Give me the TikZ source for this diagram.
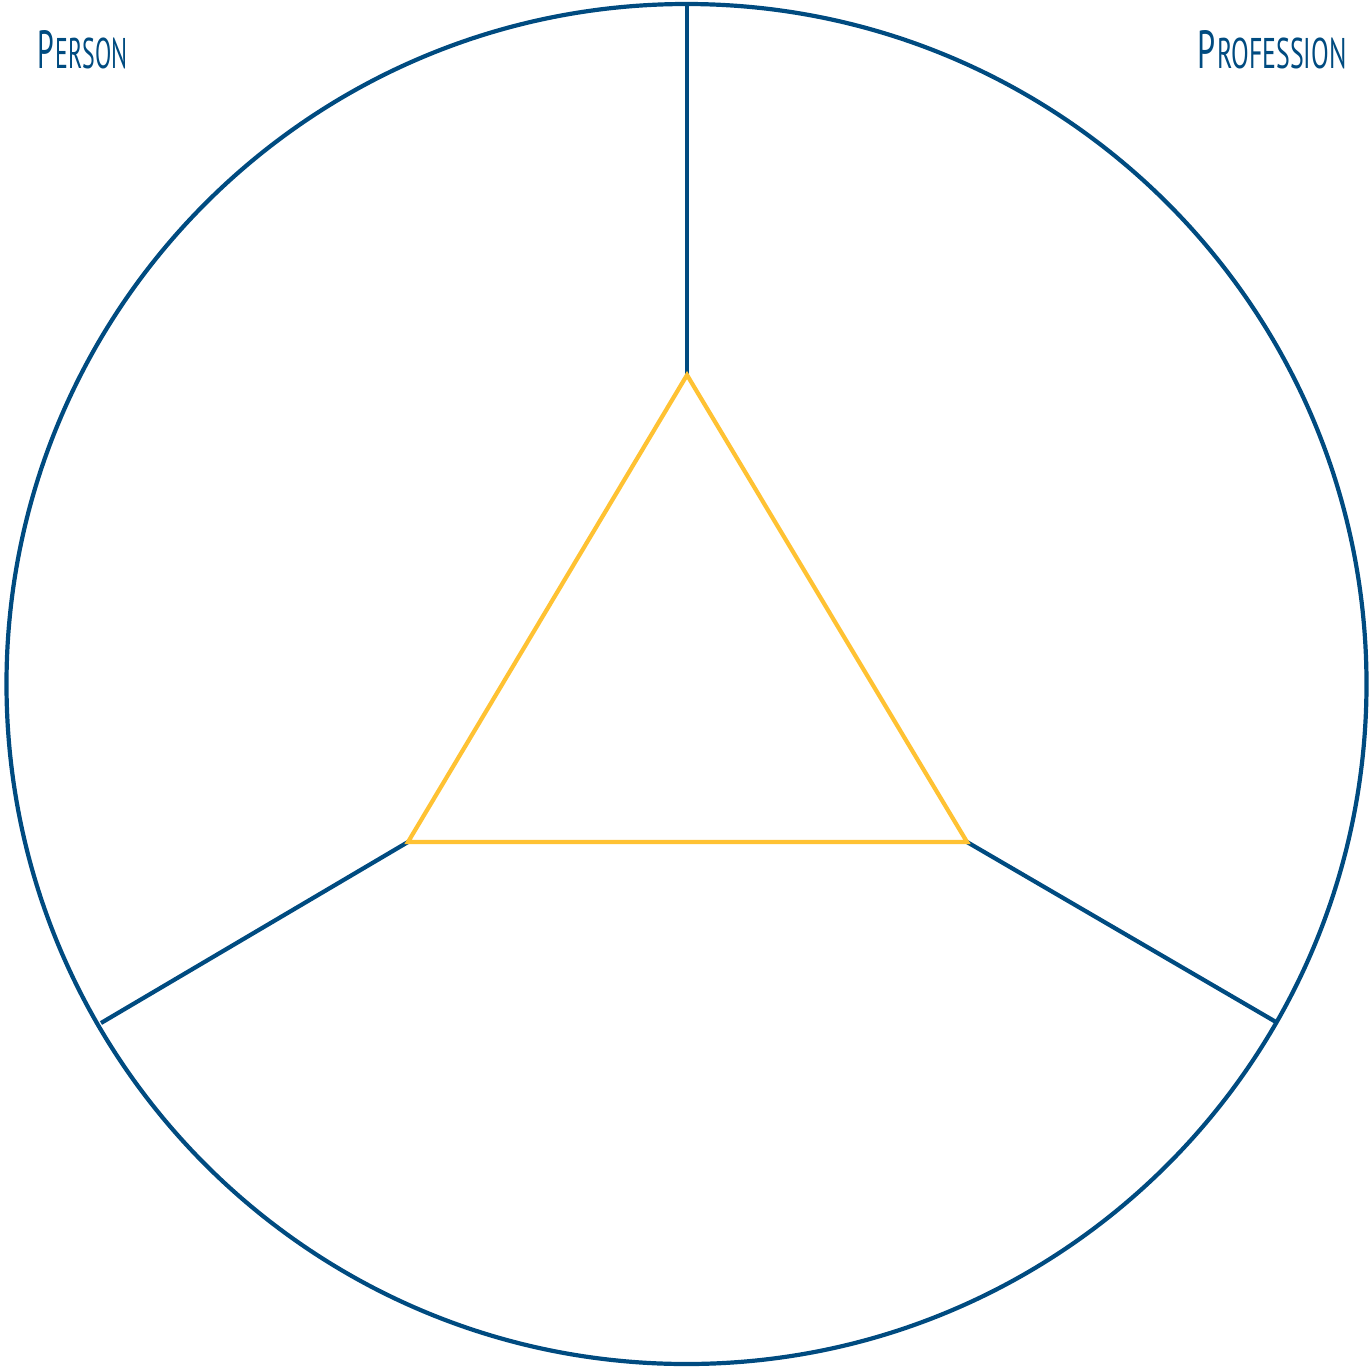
\documentclass[tikz,border=0pt]{standalone}
\usepackage{fontspec}
\setmainfont{PT Sans}
\usepackage{graphicx}
\definecolor{dblue}{HTML}{004B80}
\definecolor{dyellow}{HTML}{FFC233}
\begin{document}
\begin{tikzpicture}[x=0.5pt,y=-0.5pt,
  bline/.style={draw=dblue,line width=2.1pt},
  yline/.style={draw=dyellow,line width=2.1pt,line join=miter},
  lbl/.style={text=dblue,inner sep=0pt}]
\useasboundingbox (0,0) rectangle (1371,1366);
\coordinate (c) at (686.5,684);
\draw[bline] (c) circle[radius=340pt];
\coordinate (t) at (687,375);
\coordinate (l) at (408,842);
\coordinate (r) at (967,842);
\coordinate (ot) at (687,4);
\coordinate (ol) at (101,1023);
\coordinate (or) at (1276,1022);
\draw[bline] (t) -- (ot);
\draw[bline] (l) -- (ol);
\draw[bline] (r) -- (or);
\draw[yline] (t) -- (l) -- (r) -- cycle;
\node[lbl,anchor=north west] (person) at (37,30) {\resizebox{45pt}{19pt}{P\kern0.5pt{\footnotesize ERSON}}};
\node[lbl,anchor=north east] (prof) at (1347,30) {\resizebox{74.5pt}{19pt}{P\kern0.5pt{\footnotesize ROFESSION}}};
\end{tikzpicture}
\end{document}
